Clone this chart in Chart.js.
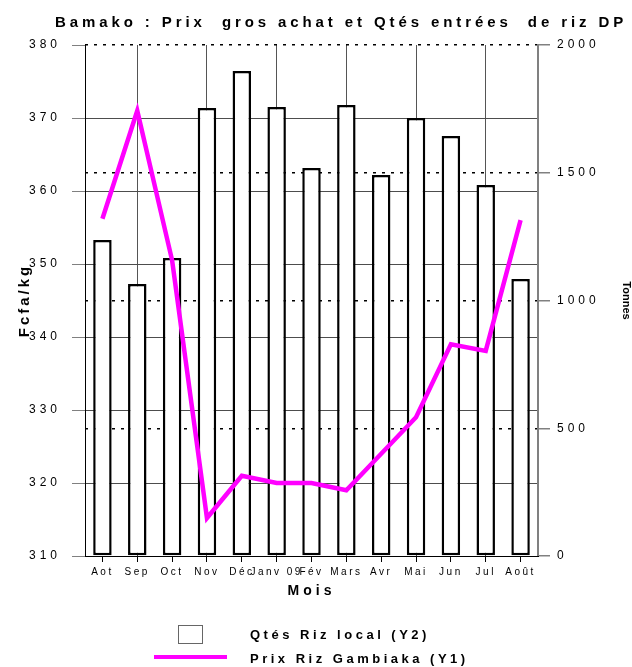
<!DOCTYPE html>
<html>
<head>
<meta charset="utf-8">
<title>Bamako riz DP</title>
<script src="https://cdn.jsdelivr.net/npm/chart.js@4.4.0/dist/chart.umd.min.js"></script>
<style>
  html, body { margin: 0; padding: 0; background: #fff; }
  #wrap { position: relative; width: 632px; height: 667px; overflow: hidden;
          font-family: "Liberation Sans", Arial, sans-serif; color: #000; }
  #wrap canvas { position: absolute; left: 0; top: 0; }
  .title { position: absolute; left: 55px; top: 14px; font-size: 15px; line-height: 15px;
           font-weight: bold; letter-spacing: 3.9px; white-space: pre; }
  .leg-text { position: absolute; left: 250px; font-size: 13px; line-height: 13px;
              font-weight: bold; letter-spacing: 3.5px; white-space: pre; }
  .leg-box { position: absolute; left: 178px; top: 625px; width: 23px; height: 17px;
             border: 1px solid #666; background: #fff; }
  .leg-line { position: absolute; left: 154px; top: 655px; width: 73px; height: 4px; background: #ff00ff; }
</style>
</head>
<body>
<div id="wrap">
  <canvas id="rizChart" width="632" height="667"></canvas>
  <div class="title">Bamako : Prix  gros achat et Qtés entrées  de riz DP</div>
  <div class="leg-box"></div>
  <div class="leg-text" style="top:628px">Qtés Riz local (Y2)</div>
  <div class="leg-line"></div>
  <div class="leg-text" style="top:652px">Prix Riz Gambiaka (Y1)</div>
</div>

<script>
// data
const mois = ["Aot", "Sep", "Oct", "Nov", "Déc", "Janv 09", "Fév", "Mars", "Avr", "Mai", "Jun", "Jul", "Août"];
const qtesRizLocal = [1237, 1065, 1166, 1753, 1898, 1757, 1519, 1765, 1491, 1714, 1644, 1452, 1084];
const prixRizGambiaka = [356.2, 371, 350.5, 315.2, 321, 320, 320, 319, 324, 329, 339, 338.1, 356];
const prixTicks = [310, 320, 330, 340, 350, 360, 370, 380];
const tonnesTicks = [0, 500, 1000, 1500, 2000];

Chart.defaults.font.family = '"Liberation Sans", Arial, sans-serif';
Chart.defaults.color = "#000";

// canvas letter spacing per scale (labels / title)
function spaced(scale, labelGap, titleGap) {
  if (scale.$spaced) return;
  scale.$spaced = true;
  const wrap = (name, gap) => {
    const orig = scale[name];
    scale[name] = function (...args) {
      const ctx = this.ctx;
      ctx.save();
      ctx.letterSpacing = gap;
      orig.apply(this, args);
      ctx.restore();
    };
  };
  wrap("drawLabels", labelGap);
  wrap("drawTitle", titleGap);
}

const ctx = document.getElementById("rizChart").getContext("2d");

new Chart(ctx, {
  type: "bar",
  data: {
    labels: mois,
    datasets: [
      {
        type: "line",
        label: "Prix Riz Gambiaka (Y1)",
        data: prixRizGambiaka,
        yAxisID: "y",
        borderColor: "#ff00ff",
        borderWidth: 4.5,
        pointRadius: 0,
        tension: 0,
        order: 1
      },
      {
        label: "Qtés Riz local (Y2)",
        data: qtesRizLocal,
        yAxisID: "y2",
        backgroundColor: "#fff",
        borderColor: "#000",
        borderWidth: 2.5,
        borderSkipped: false,
        barPercentage: 0.53,
        categoryPercentage: 1,
        order: 2
      }
    ]
  },
  options: {
    responsive: false,
    animation: false,
    devicePixelRatio: 1,
    layout: { padding: { top: 45, left: 0, right: 0, bottom: 0 } },
    plugins: {
      legend: { display: false },
      tooltip: { enabled: false }
    },
    scales: {
      x: {
        offset: true,
        afterFit: s => { s.height = 111; spaced(s, "2.5px", "4px"); },
        grid: {
          offset: false,
          color: c => (c.index % 2 === 1 ? "#555" : "rgba(0,0,0,0)"),
          tickColor: "#000",
          tickLength: 6,
          lineWidth: 1
        },
        border: { color: "#000", width: 1, z: 1 },
        ticks: { font: { size: 10 }, padding: 4, autoSkip: false, maxRotation: 0 },
        title: {
          display: true,
          text: "Mois",
          font: { size: 14, weight: "bold" },
          padding: { top: 0, bottom: 67 }
        }
      },
      y: {
        position: "left",
        min: 310,
        max: 380,
        afterBuildTicks: s => { s.ticks = prixTicks.map(v => ({ value: v })); },
        afterFit: s => { s.width = 85; spaced(s, "4px", "3px"); },
        grid: {
          color: c => (c.tick && c.tick.value === 380 ? "rgba(0,0,0,0)" : "#4d4d4d"),
          tickColor: "#808080",
          tickLength: 13,
          lineWidth: 1
        },
        border: { color: "#000", width: 1 },
        ticks: { font: { size: 12 }, padding: 11, callback: v => String(v) },
        title: {
          display: true,
          text: "Fcfa/kg",
          font: { size: 15, weight: "bold" },
          padding: { top: 15.5, bottom: 0 }
        }
      },
      y2: {
        position: "right",
        min: 0,
        max: 2000,
        afterBuildTicks: s => { s.ticks = tonnesTicks.map(v => ({ value: v })); },
        afterFit: s => { s.width = 94; spaced(s, "4px", "0px"); },
        grid: {
          color: c => (c.tick && c.tick.value === 0 ? "rgba(0,0,0,0)" : "#000"),
          lineWidth: 1.5,
          tickColor: "#808080",
          tickBorderDash: [],
          tickLength: 12
        },
        border: { color: "#808080", width: 2, dash: [3, 6] },
        ticks: { font: { size: 12 }, padding: 7, callback: v => String(v) },
        title: {
          display: true,
          text: "Tonnes",
          font: { size: 11, weight: "bold" },
          padding: { top: -1, bottom: 0 }
        }
      }
    }
  }
});
</script>
</body>
</html>
